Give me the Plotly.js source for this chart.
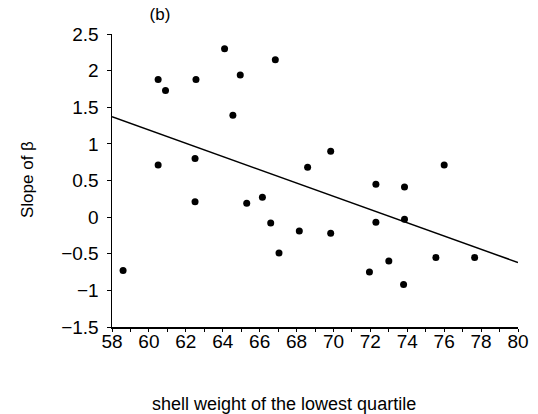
<!DOCTYPE html>
<html>
<head>
<meta charset="utf-8">
<script src="https://cdn.plot.ly/plotly-3.0.1.min.js"></script>
<style>html,body{margin:0;padding:0;background:#fff;}#chart{width:538px;height:414px;}</style>
</head>
<body>
<div id="chart"></div>
<script>
var shellWeight = [58.6, 60.5, 60.9, 60.5, 62.55, 62.5, 62.5, 64.1, 64.95, 64.55, 65.3, 66.15, 66.85, 66.6, 67.05, 68.15, 68.6, 69.85, 69.85, 72.3, 72.3, 71.95, 73.0, 73.85, 73.85, 73.8, 75.55, 76.0, 77.65];
var slopeBeta = [-0.73, 1.88, 1.73, 0.71, 1.88, 0.80, 0.21, 2.30, 1.94, 1.39, 0.19, 0.27, 2.15, -0.08, -0.49, -0.19, 0.68, 0.90, -0.22, 0.45, -0.07, -0.75, -0.60, 0.41, -0.03, -0.92, -0.55, 0.71, -0.55];
var fitX = [58, 80];
var fitY = [1.37, -0.62];
var xTicks = [58, 60, 62, 64, 66, 68, 70, 72, 74, 76, 78, 80];
var yTicks = [-1.5, -1, -0.5, 0, 0.5, 1, 1.5, 2, 2.5];
var yTickText = ['\u22121.5', '\u22121', '\u22120.5', '0', '0.5', '1', '1.5', '2', '2.5'];

var fontFam = '"Liberation Sans Narrow", "Liberation Sans", Arial, sans-serif';

var data = [
  {x: shellWeight, y: slopeBeta, type: 'scatter', mode: 'markers',
   marker: {color: '#000', size: 7, symbol: 'circle'}, showlegend: false, hoverinfo: 'x+y'},
  {x: fitX, y: fitY, type: 'scatter', mode: 'lines',
   line: {color: '#000', width: 1.5}, showlegend: false}
];

var layout = {
  width: 538, height: 414,
  margin: {l: 112, r: 20, t: 34, b: 87},
  paper_bgcolor: '#fff', plot_bgcolor: '#fff',
  font: {family: fontFam, color: '#000', size: 19},
  title: {text: '(b)', x: 160/538, xref: 'container', xanchor: 'center', y: 1 - 14/414, yref: 'container', yanchor: 'middle', font: {family: fontFam, size: 17, color: '#000'}},
  xaxis: {range: [58, 80], tickvals: xTicks, ticktext: xTicks.map(String), showgrid: false, zeroline: false,
    showline: true, linecolor: '#000', linewidth: 1.5, ticks: 'outside', ticklen: 3, tickcolor: '#000',
    minor: {dtick: 1, ticks: 'outside', ticklen: 3, tickcolor: '#000'}, ticklabelstandoff: -6,
    tickfont: {family: fontFam, size: 19, color: '#000'}, fixedrange: true},
  yaxis: {range: [-1.5, 2.5], tickvals: yTicks, ticktext: yTickText, showgrid: false, zeroline: false,
    showline: true, linecolor: '#000', linewidth: 1.5, ticks: 'outside', ticklen: 4, tickcolor: '#000',
    ticklabelstandoff: 4,
    tickfont: {family: fontFam, size: 19, color: '#000'}, fixedrange: true},
  annotations: [
    {text: 'shell weight of the lowest quartile', xref: 'paper', yref: 'paper', x: (284-112)/406, y: -(404-327)/293,
     xanchor: 'center', yanchor: 'middle', showarrow: false, font: {family: '"Liberation Sans", Arial, sans-serif', size: 18, color: '#000'}},
    {text: 'Slope of \u03b2', xref: 'paper', yref: 'paper', x: -(112-27)/406, y: (327-180)/293, textangle: -90,
     xanchor: 'center', yanchor: 'middle', showarrow: false, font: {family: fontFam, size: 17, color: '#000'}}
  ]
};

Plotly.newPlot('chart', data, layout, {displayModeBar: false, staticPlot: true});
</script>
</body>
</html>
